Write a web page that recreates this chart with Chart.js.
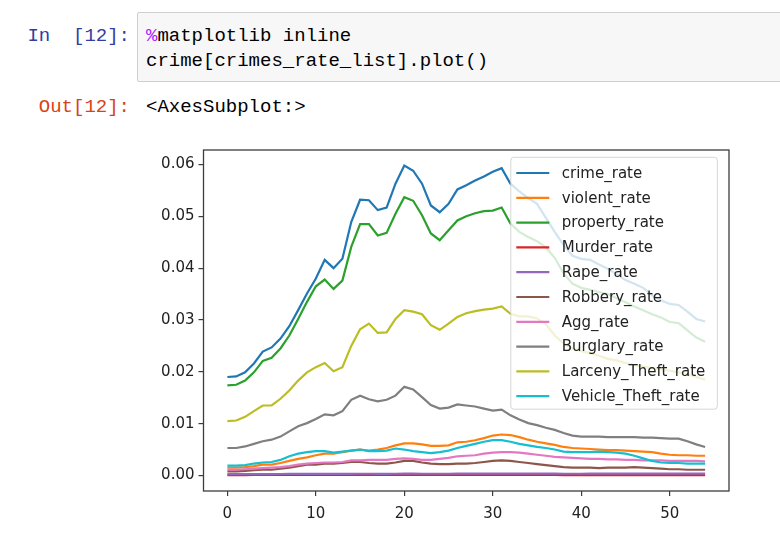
<!DOCTYPE html>
<html>
<head>
<meta charset="utf-8">
<script src="https://cdn.jsdelivr.net/npm/chart.js@4/dist/chart.umd.min.js"></script>
<style>
  body { margin: 0; background: #fff; width: 780px; height: 534px; overflow: hidden; position: relative; }
  .mono { font-family: "Liberation Mono", "DejaVu Sans Mono", monospace; font-size: 19px; line-height: 25px; white-space: pre; position: absolute; }
  .prompt { width: 104px; text-align: right; left: 26px; }
  #inPrompt { top: 24px; color: #303f9f; }
  #outPrompt { top: 95px; color: #d84315; }
  #codeBox { position: absolute; left: 137px; top: 12px; width: 660px; height: 70px; background: #f7f7f7; border: 1px solid #cfcfcf; border-radius: 2px; box-sizing: border-box; }
  #code { left: 146px; top: 24px; color: #000; }
  #code .mg { color: #aa22ff; }
  #outText { left: 146px; top: 95px; color: #000; }
  #chartWrap { position: absolute; left: 140px; top: 140px; width: 600px; height: 394px; }
</style>
</head>
<body>
<div class="mono prompt" id="inPrompt">In  [12]:</div>
<div id="codeBox"></div>
<div class="mono" id="code"><span class="mg">%</span>matplotlib inline
crime[crimes_rate_list].plot()</div>
<div class="mono prompt" id="outPrompt">Out[12]:</div>
<div class="mono" id="outText">&lt;AxesSubplot:&gt;</div>
<div id="chartWrap"><canvas id="grafica" width="600" height="394"></canvas></div>

<script>
// indice de fila del DataFrame
const idx = [0,1,2,3,4,5,6,7,8,9,10,11,12,13,14,15,16,17,18,19,20,21,22,23,24,25,26,27,28,29,30,31,32,33,34,35,36,37,38,39,40,41,42,43,44,45,46,47,48,49,50,51,52,53,54];

const crime_rate = [0.0190,0.0191,0.0199,0.0216,0.0239,0.0247,0.0264,0.0288,0.0319,0.0351,0.0380,0.0416,0.0400,0.0418,0.0489,0.0532,0.0531,0.0512,0.0517,0.0563,0.0598,0.0588,0.0563,0.0521,0.0508,0.0524,0.0552,0.0560,0.0569,0.0577,0.0586,0.0593,0.0563,0.0548,0.0535,0.0524,0.0497,0.0470,0.0445,0.0424,0.0418,0.0416,0.0407,0.0399,0.0388,0.0377,0.0370,0.0362,0.0348,0.0338,0.0331,0.0329,0.0316,0.0302,0.0297];
const violent_rate = [0.0015,0.0015,0.0016,0.0018,0.0021,0.0021,0.0024,0.0028,0.0032,0.0035,0.0039,0.0042,0.0042,0.0045,0.0048,0.0050,0.0048,0.0050,0.0053,0.0058,0.0062,0.0062,0.0060,0.0057,0.0057,0.0058,0.0064,0.0065,0.0068,0.0072,0.0077,0.0079,0.0078,0.0074,0.0069,0.0065,0.0062,0.0059,0.0055,0.0053,0.0052,0.0051,0.0050,0.0049,0.0049,0.0048,0.0047,0.0046,0.0045,0.0042,0.0040,0.0039,0.0039,0.0038,0.0038];
const property_rate = [0.0174,0.0175,0.0183,0.0199,0.0221,0.0227,0.0245,0.0270,0.0302,0.0335,0.0365,0.0378,0.0360,0.0376,0.0441,0.0485,0.0485,0.0463,0.0468,0.0505,0.0537,0.0530,0.0502,0.0467,0.0454,0.0473,0.0492,0.0500,0.0506,0.0510,0.0511,0.0517,0.0486,0.0470,0.0460,0.0452,0.0440,0.0420,0.0390,0.0370,0.0362,0.0358,0.0354,0.0350,0.0342,0.0334,0.0326,0.0319,0.0311,0.0305,0.0296,0.0294,0.0280,0.0266,0.0258];
const Murder_rate = [0.00008,0.00008,0.00008,0.00009,0.00009,0.00009,0.0001,0.0001,0.0001,0.0001,0.00011,0.00011,0.00011,0.00011,0.00012,0.00012,0.00011,0.00011,0.00011,0.00012,0.00012,0.00012,0.00011,0.0001,0.0001,0.0001,0.0001,0.00011,0.00011,0.00011,0.00012,0.00012,0.00011,0.00011,0.0001,0.0001,0.00009,0.00009,0.00008,0.00008,0.00008,0.00008,0.00008,0.00008,0.00008,0.00008,0.00008,0.00007,0.00007,0.00007,0.00007,0.00007,0.00007,0.00007,0.00007];
const Rape_rate = [0.00025,0.00025,0.00026,0.00026,0.00027,0.00027,0.00028,0.00029,0.0003,0.0003,0.00031,0.00031,0.00031,0.00032,0.00032,0.00033,0.00033,0.00032,0.00032,0.00033,0.00034,0.00034,0.00033,0.00033,0.00033,0.00033,0.00034,0.00034,0.00035,0.00035,0.00036,0.00036,0.00036,0.00035,0.00035,0.00034,0.00034,0.00034,0.00033,0.00033,0.00033,0.00034,0.00034,0.00035,0.00035,0.00035,0.00036,0.00036,0.00036,0.00036,0.00037,0.00037,0.00037,0.00037,0.00037];
const Robbery_rate = [0.0008,0.0008,0.0009,0.0010,0.0011,0.0011,0.0013,0.0015,0.0018,0.0021,0.0021,0.0023,0.0023,0.0024,0.0026,0.0026,0.0024,0.0023,0.0023,0.0025,0.0028,0.0028,0.0025,0.0023,0.0022,0.0022,0.0023,0.0023,0.0024,0.0026,0.0028,0.0029,0.0028,0.0026,0.0024,0.0022,0.0020,0.0018,0.0016,0.0015,0.0015,0.0015,0.0014,0.0015,0.0015,0.0015,0.0016,0.0015,0.0014,0.0013,0.0012,0.0012,0.0011,0.0011,0.0011];
const Agg_rate = [0.0011,0.0011,0.0012,0.0013,0.0014,0.0015,0.0016,0.0018,0.0021,0.0023,0.0024,0.0025,0.0025,0.0026,0.0029,0.0029,0.0030,0.0030,0.0030,0.0032,0.0033,0.0032,0.0030,0.0030,0.0032,0.0034,0.0037,0.0038,0.0039,0.0042,0.0044,0.0045,0.0045,0.0044,0.0042,0.0040,0.0038,0.0036,0.0035,0.0034,0.0033,0.0032,0.0032,0.0031,0.0031,0.0030,0.0030,0.0029,0.0029,0.0029,0.0028,0.0028,0.0028,0.0028,0.0027];
const Burglary_rate = [0.0053,0.0053,0.0056,0.0061,0.0066,0.0069,0.0075,0.0085,0.0095,0.0101,0.0109,0.0118,0.0116,0.0124,0.0146,0.0154,0.0147,0.0143,0.0146,0.0154,0.0171,0.0166,0.0151,0.0136,0.0129,0.0131,0.0137,0.0135,0.0133,0.0129,0.0125,0.0127,0.0116,0.0108,0.0101,0.0097,0.0092,0.0088,0.0082,0.0077,0.0075,0.0075,0.0075,0.0074,0.0074,0.0074,0.0074,0.0073,0.0073,0.0072,0.0071,0.0071,0.0066,0.0060,0.0055];
const Larceny_Theft_rate = [0.0105,0.0106,0.0113,0.0124,0.0135,0.0135,0.0148,0.0164,0.0183,0.0199,0.0209,0.0217,0.0201,0.0209,0.0250,0.0282,0.0293,0.0275,0.0276,0.0302,0.0319,0.0316,0.0311,0.0290,0.0281,0.0293,0.0306,0.0313,0.0317,0.0320,0.0322,0.0326,0.0312,0.0307,0.0307,0.0303,0.0292,0.0270,0.0255,0.0245,0.0240,0.0236,0.0231,0.0225,0.0222,0.0217,0.0213,0.0210,0.0207,0.0205,0.0202,0.0199,0.0195,0.0190,0.0185];
const Vehicle_Theft_rate = [0.0019,0.0019,0.0020,0.0023,0.0025,0.0026,0.0030,0.0037,0.0042,0.0045,0.0047,0.0047,0.0044,0.0046,0.0048,0.0050,0.0047,0.0047,0.0048,0.0052,0.0050,0.0047,0.0045,0.0043,0.0045,0.0048,0.0053,0.0057,0.0061,0.0065,0.0068,0.0068,0.0065,0.0061,0.0058,0.0055,0.0053,0.0050,0.0046,0.0045,0.0045,0.0045,0.0046,0.0045,0.0044,0.0042,0.0038,0.0033,0.0028,0.0025,0.0024,0.0024,0.0023,0.0023,0.0023];

const seriesNames = ['crime_rate','violent_rate','property_rate','Murder_rate','Rape_rate','Robbery_rate','Agg_rate','Burglary_rate','Larceny_Theft_rate','Vehicle_Theft_rate'];
const seriesData = [crime_rate, violent_rate, property_rate, Murder_rate, Rape_rate, Robbery_rate, Agg_rate, Burglary_rate, Larceny_Theft_rate, Vehicle_Theft_rate];
const xTicks = [0, 10, 20, 30, 40, 50];
const yTicks = [0, 0.01, 0.02, 0.03, 0.04, 0.05, 0.06];

// colores tab10 de matplotlib
const colores = ['#1f77b4','#ff7f0e','#2ca02c','#d62728','#9467bd','#8c564b','#e377c2','#7f7f7f','#bcbd22','#17becf'];
const fuente = '"DejaVu Sans", sans-serif';

// marco de los ejes (4 lados como matplotlib)
const marcoEjes = {
  id: 'marcoEjes',
  afterDatasetsDraw(chart) {
    const ctx = chart.ctx, a = chart.chartArea;
    ctx.save();
    ctx.strokeStyle = '#3c3c3c';
    ctx.lineWidth = 1.3;
    ctx.strokeRect(a.left, a.top, a.right - a.left, a.bottom - a.top);
    ctx.restore();
  }
};

// leyenda dentro del area, arriba a la derecha
const leyenda = {
  id: 'leyenda',
  afterDatasetsDraw(chart) {
    const ctx = chart.ctx, a = chart.chartArea;
    const sets = chart.data.datasets;
    ctx.save();
    ctx.font = '15px ' + fuente;
    let tw = 0;
    sets.forEach(function(d){ tw = Math.max(tw, ctx.measureText(d.label).width); });
    const w = 5.5 + 33 + 11.5 + tw + 13;
    const rowH = 24.8;
    const h = 15.7 + rowH * (sets.length - 1) + 13;
    const right = a.right - 11.7, top = a.top + 7.3, left = right - w;

    ctx.beginPath();
    ctx.roundRect(left, top, w, h, 3);
    ctx.fillStyle = 'rgba(255,255,255,0.8)';
    ctx.fill();
    ctx.strokeStyle = 'rgba(204,204,204,0.8)';
    ctx.lineWidth = 1;
    ctx.stroke();

    ctx.textBaseline = 'middle';
    ctx.textAlign = 'left';
    sets.forEach(function(d, i){
      const y = top + 15.7 + i * rowH;
      ctx.beginPath();
      ctx.moveTo(left + 5.5, y);
      ctx.lineTo(left + 38.5, y);
      ctx.strokeStyle = d.borderColor;
      ctx.lineWidth = 2.2;
      ctx.stroke();
      ctx.fillStyle = '#222';
      ctx.fillText(d.label, left + 51, y + 1);
    });
    ctx.restore();
  }
};

const datasets = seriesNames.map(function(nombre, i){
  return {
    label: nombre,
    data: seriesData[i],
    borderColor: colores[i],
    backgroundColor: colores[i],
    borderWidth: 2.2,
    pointRadius: 0,
    tension: 0,
    fill: false,
    order: seriesNames.length - i
  };
});

const ctx = document.getElementById('grafica').getContext('2d');
window.grafica_ = new Chart(ctx, {
  type: 'line',
  data: { labels: idx, datasets: datasets },
  options: {
    responsive: false,
    animation: false,
    layout: { padding: { left: 0, top: 10, right: 11, bottom: 0 } },
    plugins: { legend: { display: false }, tooltip: { enabled: false } },
    scales: {
      x: {
        type: 'linear',
        min: -2.7,
        max: 56.7,
        afterBuildTicks: function(s){ s.ticks = xTicks.map(function(v){ return { value: v }; }); },
        afterFit: function(s){ s.height = 43; s.paddingLeft = 0; s.paddingRight = 0; },
        border: { display: false },
        grid: { drawOnChartArea: false, drawTicks: true, tickLength: 5, color: '#3c3c3c', lineWidth: 1.2 },
        ticks: { padding: 9, color: '#222', font: { family: fuente, size: 15 }, maxRotation: 0,
                 callback: function(v){ return String(v); } }
      },
      y: {
        type: 'linear',
        min: -0.003,
        max: 0.0628,
        afterBuildTicks: function(s){ s.ticks = yTicks.map(function(v){ return { value: v }; }); },
        afterFit: function(s){ s.width = 63.5; s.paddingTop = 0; s.paddingBottom = 0; },
        border: { display: false },
        grid: { drawOnChartArea: false, drawTicks: true, tickLength: 5, color: '#3c3c3c', lineWidth: 1.2 },
        ticks: { padding: 4, color: '#222', font: { family: fuente, size: 15 },
                 callback: function(v){ return v.toFixed(2); } }
      }
    }
  },
  plugins: [marcoEjes, leyenda]
});
</script>
</body>
</html>
